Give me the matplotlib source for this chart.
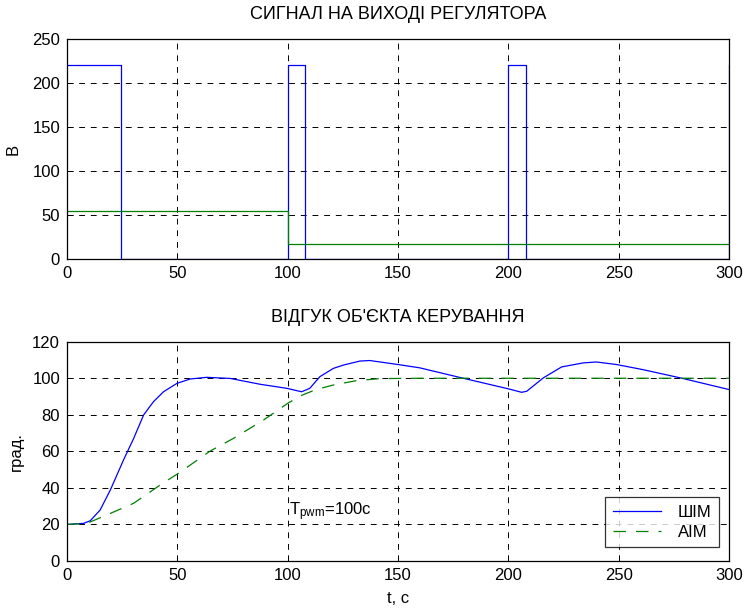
import matplotlib
matplotlib.use("Agg")
import matplotlib.pyplot as plt

plt.rcParams["font.family"] = ["Liberation Sans", "DejaVu Sans"]
plt.rcParams["font.size"] = 12
plt.rcParams["mathtext.default"] = "regular"

# --- top: controller output, V ---
t_pwm = [0, 24.5, 100, 108, 200, 208, 300]
u_pwm = [220, 0, 220, 0, 220, 0, 220]
t_aim = [0, 100, 300]
u_aim = [54, 17.5, 17.5]

# --- bottom: plant response, deg ---
t_resp_pwm = [0, 7.5, 10.5, 15, 19.6, 25.6, 30.2, 34.7, 37.5, 39.2, 43.7, 49.8, 55.8,
              63.3, 73.9, 87.5, 99.5, 106.3, 110, 114.6, 120.7, 125.2, 132.7,
              137.2, 150, 159.8, 179.5, 200, 206, 208.3, 215.8, 224.1, 233.9,
              239.9, 249, 261, 278.6, 300]
y_resp_pwm = [20, 20.6, 22, 27.9, 38.8, 55.3, 67.1, 79.9, 84.5, 87.2, 92.6, 97.2, 99.6,
              100.5, 99.9, 96.7, 94.5, 92.6, 94.5, 100.9, 105.4, 107.2, 109.4,
              109.7, 107.5, 105.7, 100, 94.2, 92.3, 92.9, 100.2, 106.2, 108.4,
              108.9, 107.5, 104.7, 100, 93.8]
t_resp_aim = [0, 9, 18, 30.2, 42.2, 50.5, 64.9, 75.4, 89, 100, 105.6, 113,
              120.7, 131.2, 141.8, 160, 300]
y_resp_aim = [20, 20.6, 25.2, 31.6, 41.6, 48, 60.2, 67.1, 77.1, 86.3, 90.3, 93.9,
              96.3, 98.7, 99.8, 100, 100]

BLUE = "#0000ff"
GREEN = "#008000"

fig = plt.figure(figsize=(7.49, 6.08), dpi=100)
ax1 = fig.add_axes([0.0895, 0.574, 0.884, 0.362])
ax2 = fig.add_axes([0.0895, 0.0773, 0.884, 0.3607])


def style(ax, yticks):
    ax.set_xlim(0, 300)
    ax.set_xticks(range(0, 301, 50))
    ax.set_yticks(yticks)
    ax.set_ylim(yticks[0], yticks[-1])
    ax.grid(True, color="black", linestyle=(0, (6, 6)), linewidth=0.7)
    ax.tick_params(direction="in", length=4, width=0.7, labelsize=12, pad=5)
    for sp in ax.spines.values():
        sp.set_linewidth(0.9)


ax1.step(t_pwm, u_pwm, where="post", color=BLUE, lw=0.9)
ax1.step(t_aim, u_aim, where="post", color=GREEN, lw=0.9)
style(ax1, list(range(0, 251, 50)))
ax1.set_title("СИГНАЛ НА ВИХОДІ РЕГУЛЯТОРА", fontsize=13, pad=14)
ax1.set_ylabel("В", fontsize=12, labelpad=8)

ax2.plot(t_resp_pwm, y_resp_pwm, color=BLUE, lw=0.9, label="ШІМ")
ax2.plot(t_resp_aim, y_resp_aim, color=GREEN, lw=0.9, linestyle=(0, (10, 8)), label="АІМ")
style(ax2, list(range(0, 121, 20)))
ax2.set_title("ВІДГУК ОБ'ЄКТА КЕРУВАННЯ", fontsize=13, pad=14)
ax2.set_ylabel("град.", fontsize=12, labelpad=6)
ax2.set_xlabel("t, c", fontsize=12, labelpad=6)
ax2.text(100.5, 27, r"T$_{pwm}$=100c", fontsize=12, va="center", ha="left")

leg = ax2.legend(loc="lower right", bbox_to_anchor=(0.997, 0.025), frameon=True,
                 fancybox=False, edgecolor="black", fontsize=12, handlelength=2.9,
                 handletextpad=1.0, borderpad=0.45, labelspacing=0.3)
leg.get_frame().set_linewidth(0.9)

fig.savefig("out.png", dpi=100)
